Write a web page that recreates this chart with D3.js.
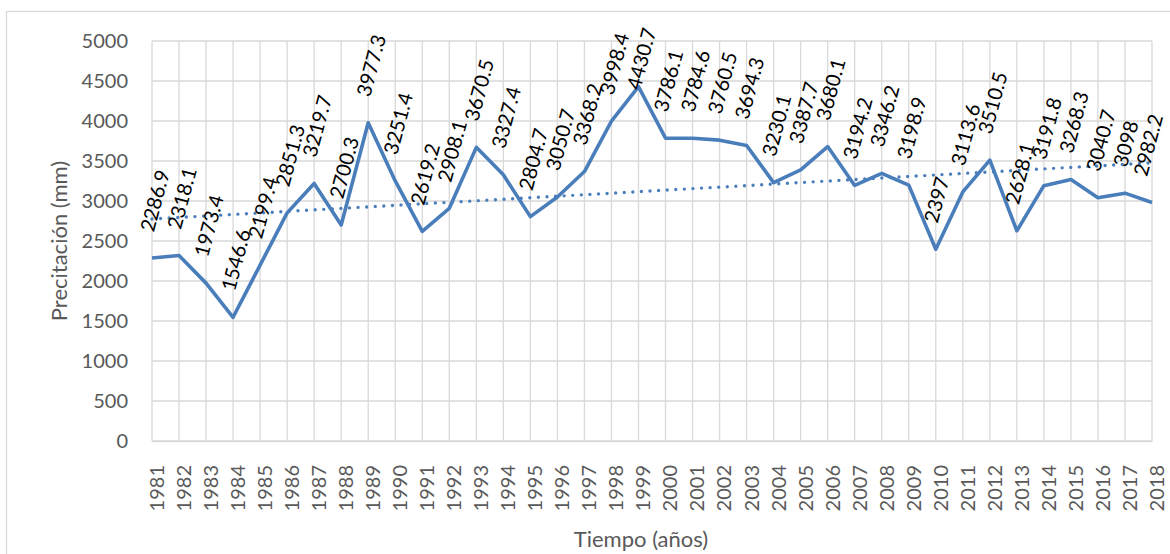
<!DOCTYPE html>
<html>
<head>
<meta charset="utf-8">
<script src="https://cdn.jsdelivr.net/npm/d3@7"></script>
<style>
  html, body { margin: 0; padding: 0; background: #fff; }
  svg { display: block; }
  text { font-family: Lato, "Open Sans", sans-serif; }
</style>
</head>
<body>
<svg id="chart" width="1170" height="554"></svg>
<script>
// ---- data ----
const years = ["1981","1982","1983","1984","1985","1986","1987","1988","1989","1990",
  "1991","1992","1993","1994","1995","1996","1997","1998","1999","2000",
  "2001","2002","2003","2004","2005","2006","2007","2008","2009","2010",
  "2011","2012","2013","2014","2015","2016","2017","2018"];
const precipitation = [2286.9, 2318.1, 1973.4, 1546.6, 2199.4, 2851.3, 3219.7, 2700.3, 3977.3, 3251.4,
  2619.2, 2908.1, 3670.5, 3327.4, 2804.7, 3050.7, 3368.2, 3998.4, 4430.7, 3786.1,
  3784.6, 3760.5, 3694.3, 3230.1, 3387.7, 3680.1, 3194.2, 3346.2, 3198.9, 2397,
  3113.6, 3510.5, 2628.1, 3191.8, 3268.3, 3040.7, 3098, 2982.2];
const yTicks = [0, 500, 1000, 1500, 2000, 2500, 3000, 3500, 4000, 4500, 5000];
const yTitle = "Precitación (mm)";
const xTitle = "Tiempo (años)";
const chartTitle = "Variación temporal de la precipitación anual";

// ---- layout ----
const plot = { left: 152, right: 1152, top: 41, bottom: 441 };
const lineColor = "#4A7EBB";
const gridColor = "#D9D9D9";
const tickColor = "#595959";

const svg = d3.select("#chart");

// chart area border
svg.append("rect")
  .attr("x", 6.5).attr("y", 11.5)
  .attr("width", 1180).attr("height", 560)
  .attr("fill", "#fff").attr("stroke", gridColor).attr("stroke-width", 1.3);

// title (cut off above the visible area, as in the reference)
svg.append("text")
  .attr("x", 587).attr("y", -9)
  .attr("text-anchor", "middle")
  .attr("font-size", 22).attr("fill", tickColor)
  .text(chartTitle);

const x = d3.scalePoint().domain(years).range([plot.left, plot.right]);
const y = d3.scaleLinear().domain([0, 5000]).range([plot.bottom, plot.top]);

// horizontal gridlines
svg.append("g").selectAll("line").data(yTicks).join("line")
  .attr("x1", plot.left).attr("x2", plot.right)
  .attr("y1", d => y(d)).attr("y2", d => y(d))
  .attr("stroke", gridColor).attr("stroke-width", 1.3);

// vertical gridlines
svg.append("g").selectAll("line").data(years).join("line")
  .attr("x1", d => x(d)).attr("x2", d => x(d))
  .attr("y1", plot.top).attr("y2", plot.bottom)
  .attr("stroke", gridColor).attr("stroke-width", 1.3);

// y axis
const yAxis = svg.append("g")
  .attr("transform", `translate(${plot.left},0)`)
  .call(d3.axisLeft(y).tickValues(yTicks).tickFormat(d3.format("d")).tickSize(0).tickPadding(24));
yAxis.select(".domain").remove();
yAxis.selectAll("text")
  .attr("font-family", "Lato, 'Open Sans', sans-serif")
  .attr("font-size", 20).attr("fill", tickColor);

// x axis
const xAxis = svg.append("g")
  .attr("transform", `translate(0,${plot.bottom})`)
  .call(d3.axisBottom(x).tickSize(0));
xAxis.select(".domain").attr("stroke", gridColor).attr("stroke-width", 1.3);
xAxis.selectAll("text")
  .attr("font-family", "Lato, 'Open Sans', sans-serif")
  .attr("font-size", 20).attr("fill", tickColor)
  .attr("transform", "rotate(-90)")
  .attr("text-anchor", "end")
  .attr("x", -24).attr("y", 0).attr("dy", "0.57em");

// axis titles
svg.append("text")
  .attr("transform", `translate(67,${(plot.top + plot.bottom) / 2}) rotate(-90)`)
  .attr("text-anchor", "middle")
  .attr("font-size", 22).attr("fill", tickColor)
  .text(yTitle);

svg.append("text")
  .attr("x", 641).attr("y", 547)
  .attr("text-anchor", "middle")
  .attr("font-size", 22).attr("fill", tickColor)
  .text(xTitle);

// trend line (least squares over the series)
const n = precipitation.length;
const idx = d3.range(n);
const mx = d3.mean(idx), my = d3.mean(precipitation);
const slope = d3.sum(idx, i => (i - mx) * (precipitation[i] - my)) / d3.sum(idx, i => (i - mx) ** 2);
const intercept = my - slope * mx;
svg.append("line")
  .attr("x1", x(years[0])).attr("y1", y(intercept))
  .attr("x2", x(years[n - 1])).attr("y2", y(intercept + slope * (n - 1)))
  .attr("stroke", lineColor).attr("stroke-width", 3.4)
  .attr("stroke-linecap", "round")
  .attr("stroke-dasharray", "0 8.6");

// data line
const line = d3.line().x((d, i) => x(years[i])).y(d => y(d));
svg.append("path")
  .datum(precipitation)
  .attr("d", line)
  .attr("fill", "none")
  .attr("stroke", lineColor).attr("stroke-width", 3.6)
  .attr("stroke-linejoin", "round");

// data labels
const labels = svg.append("g").selectAll("text").data(precipitation).join("text")
  .attr("font-size", 20).attr("fill", "#000")
  .attr("text-anchor", "start")
  .attr("dy", "0.35em")
  .attr("transform", (d, i) => `translate(${x(years[i]) - 5},${y(d) - 27}) rotate(-75)`)
  .text(d => String(d));

// keep labels inside chart area
labels.each(function (d, i) {
  const r = this.getBoundingClientRect();
  const minTop = 25, maxRight = 1167;
  let dy = 0, dx = 0;
  if (r.top < minTop) dy = minTop - r.top;
  if (r.right > maxRight) dx = maxRight - r.right;
  if (dx || dy) {
    d3.select(this).attr("transform", `translate(${x(years[i]) - 5 + dx},${y(d) - 27 + dy}) rotate(-75)`);
  }
});
</script>
</body>
</html>
